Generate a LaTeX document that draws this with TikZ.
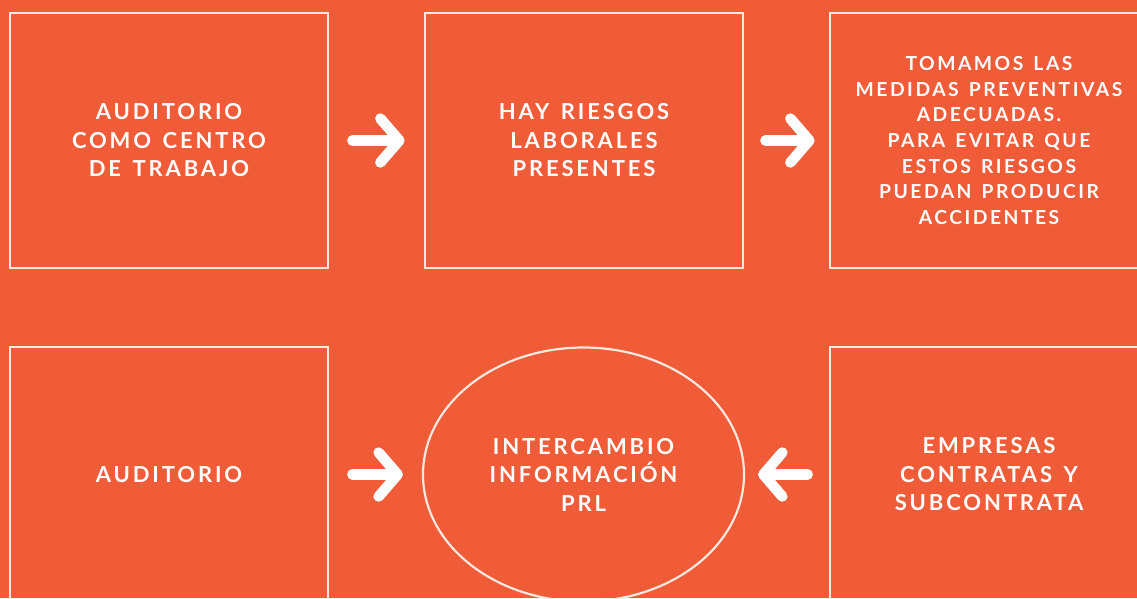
\documentclass[tikz,border=0pt]{standalone}
\usepackage{fontspec}
\newfontfamily\boxfont{Lato}[LetterSpace=13, WordSpace=1.4]
\usetikzlibrary{calc,arrows.meta,shapes.geometric}
\definecolor{bgorange}{HTML}{F05B38}
\definecolor{edgewhite}{HTML}{FCE8DE}

\begin{document}
\begin{tikzpicture}[x=1pt,y=-1pt,
    box/.style={draw=edgewhite, line width=2.8pt, minimum width=318pt, minimum height=255pt,
      inner sep=0pt, text=white, align=center, font=\boxfont\bfseries\fontsize{22}{28.5}\selectfont},
    smalltext/.style={font=\boxfont\bfseries\fontsize{19.3}{25.7}\selectfont},
    bigarrow/.style={draw=white, line width=10.5pt, line cap=round,
      -{Straight Barb[round, length=19pt, width=44pt]}}]

    %background
    \useasboundingbox (0,0) rectangle (1137,598);
    \fill[bgorange] (0,0) rectangle (1137,598);
    \clip (0,0) rectangle (1137,598);

    %top row
    \node[box] (B1) at (169,140.5) {AUDITORIO\\COMO CENTRO\\DE TRABAJO};
    \node[box] (B2) at (584,140.5) {HAY RIESGOS\\LABORALES\\PRESENTES};
    \node[box, smalltext] (B3) at (989,140.5)
    {TOMAMOS LAS\\MEDIDAS PREVENTIVAS\\ADECUADAS.\\PARA EVITAR QUE\\ESTOS RIESGOS\\PUEDAN PRODUCIR\\ACCIDENTES};

    %bottom row
    \node[box] (B4) at (169,474.5) {AUDITORIO};
    \node[box, shape=ellipse, line width=2.2pt, minimum width=321pt, minimum height=254pt] (E) at (583.5,474.5)
    {INTERCAMBIO\\INFORMACIÓN\\PRL};
    \node[box] (B6) at (989,474.5) {EMPRESAS\\CONTRATAS Y\\SUBCONTRATA};

    %arrows
    \draw[bigarrow, shorten <=23pt, shorten >=19pt] (B1.east) -- (B2.west);
    \draw[bigarrow, shorten <=21pt, shorten >=14pt] (B2.east) -- (B3.west);
    \draw[bigarrow, shorten <=23pt, shorten >=19pt] (B4.east) -- (E.west);
    \draw[bigarrow, shorten <=21pt, shorten >=13pt] (B6.west) -- (E.east);

\end{tikzpicture}
\end{document}
